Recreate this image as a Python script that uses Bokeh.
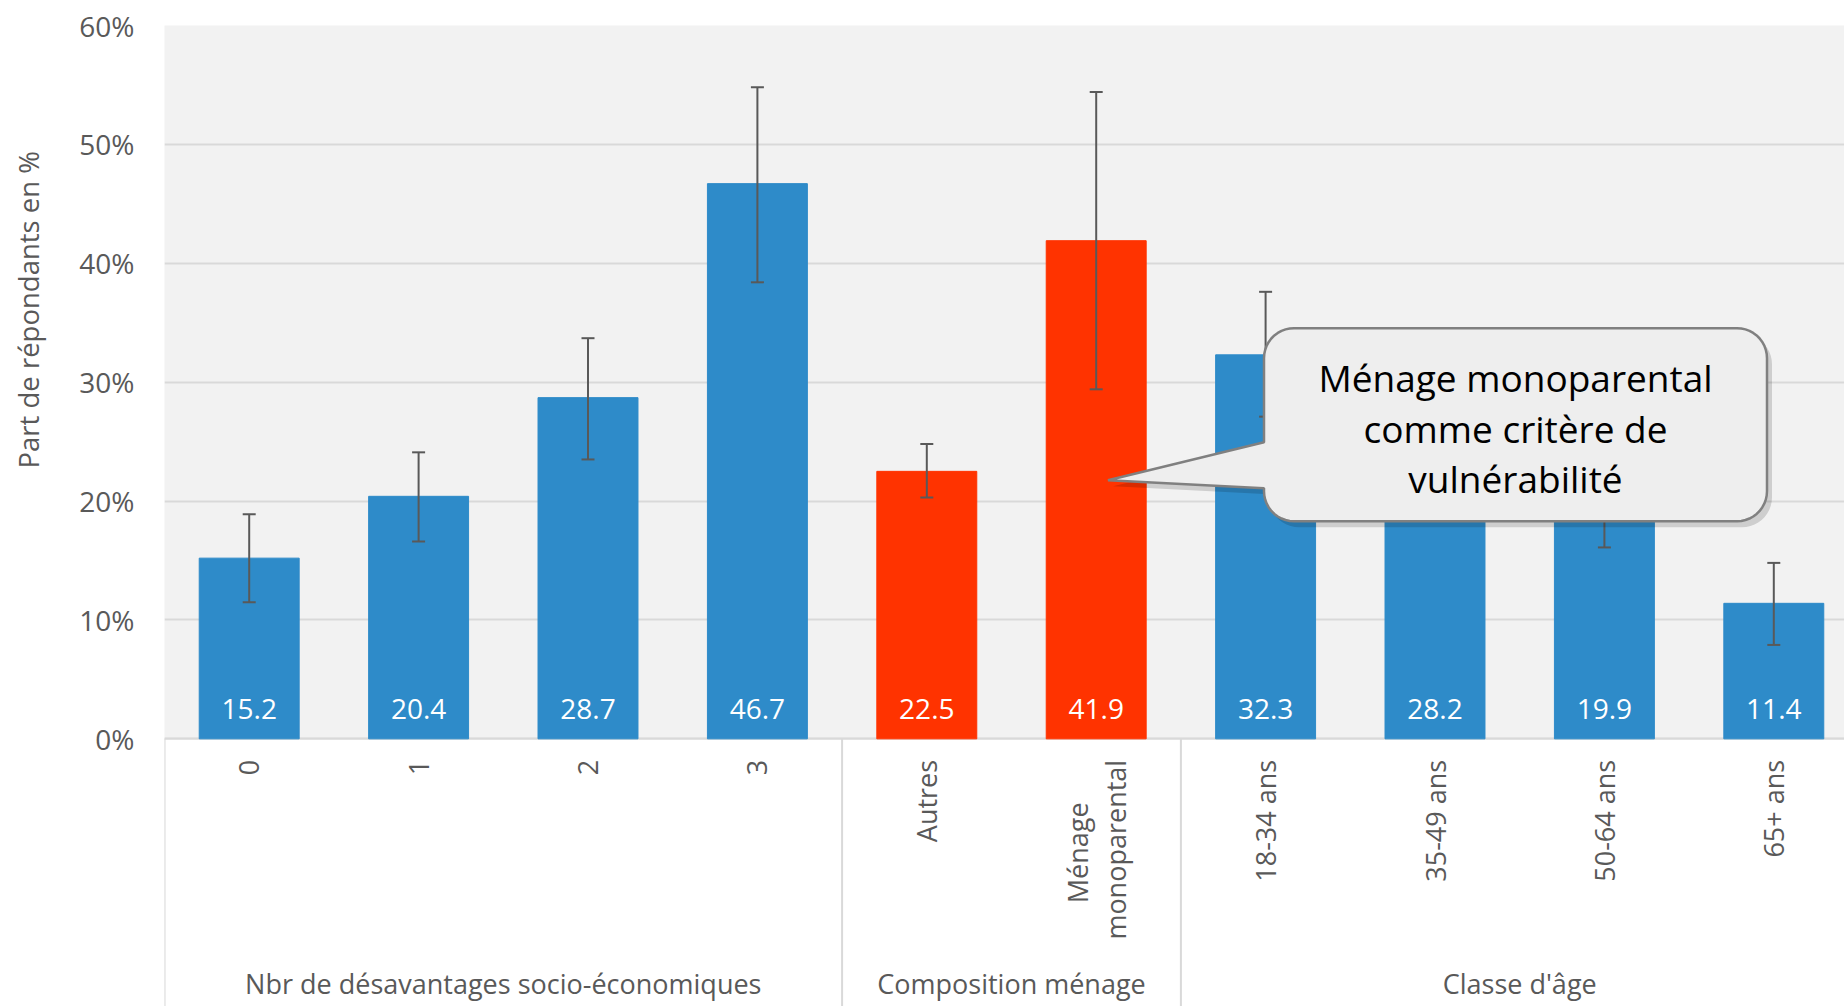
import numpy as np
from bokeh.plotting import figure
from bokeh.models import Range1d, FixedTicker, Title, ColumnDataSource
from bokeh.core.properties import value
from bokeh.embed import file_html
from bokeh.resources import INLINE

# ---------------- data ----------------
categories = ["0", "1", "2", "3", "Autres", "Ménage\nmonoparental",
              "18-34 ans", "35-49 ans", "50-64 ans", "65+ ans"]
values = [15.2, 20.4, 28.7, 46.7, 22.5, 41.9, 32.3, 28.2, 19.9, 11.4]
err_low = [11.5, 16.6, 23.5, 38.4, 20.3, 29.4, 27.1, 24.4, 16.1, 7.9]
err_high = [18.9, 24.1, 33.7, 54.8, 24.8, 54.4, 37.6, 32.0, 23.7, 14.8]
highlight = [False, False, False, False, True, True, False, False, False, False]
groups = ["Nbr de désavantages socio-économiques", "Composition ménage", "Classe d'âge"]
group_sizes = [4, 2, 4]
y_ticks = [0, 10, 20, 30, 40, 50, 60]
y_tick_labels = ["0%", "10%", "20%", "30%", "40%", "50%", "60%"]
y_title = "Part de répondants en %"
callout_lines = ["Ménage monoparental", "comme critère de", "vulnérabilité"]

# ---------------- style / layout ----------------
BLUE = "#2E8BC9"
RED = "#FF3300"
GREY_TXT = "#595959"
GRID = "#D9D9D9"
FONT = "Open Sans"

W, H = 1844, 1006
ML, MT = 164, 25
frame_w = W - ML
PX_PER_CAT = 169.4
PX_PER_PCT = 11.883
x_start = -0.5
x_end = x_start + frame_w / PX_PER_CAT
y_end = 60
zero_px = 738.5                        # 0% baseline, px from figure top
y_start = -(H - zero_px) / PX_PER_PCT  # frame reaches down to figure bottom

n = len(categories)
xs = list(range(n))
colors = [RED if h else BLUE for h in highlight]
labels = [f"{v:.1f}" for v in values]

src = ColumnDataSource(dict(x=xs, top=values, lo=err_low, hi=err_high,
                            color=colors, label=labels))

p = figure(width=W, height=H, x_range=Range1d(x_start, x_end),
           y_range=Range1d(y_start, y_end), output_backend="svg",
           toolbar_location=None, min_border_left=ML, min_border_right=0,
           min_border_top=MT, min_border_bottom=0)
p.background_fill_color = "#F2F2F2"
p.border_fill_color = "white"
p.outline_line_color = None
p.xaxis.visible = False

# grid
p.xgrid.grid_line_color = None
p.ygrid.ticker = FixedTicker(ticks=y_ticks)
p.ygrid.grid_line_color = GRID
p.ygrid.grid_line_width = 2

# y axis
p.yaxis.ticker = FixedTicker(ticks=y_ticks)
p.yaxis.major_label_overrides = {t: l for t, l in zip(y_ticks, y_tick_labels)}
p.yaxis.axis_line_color = None
p.yaxis.major_tick_line_color = None
p.yaxis.minor_tick_line_color = None
p.yaxis.major_tick_out = 0
p.yaxis.major_label_standoff = 30
p.yaxis.major_label_text_font = FONT
p.yaxis.major_label_text_font_size = "28px"
p.yaxis.major_label_text_color = GREY_TXT
# blank spacer label: keeps room between the tick labels and the axis title
p.yaxis.axis_label = " "
p.yaxis.axis_label_text_font_size = "10px"
p.yaxis.axis_label_standoff = 9

p.add_layout(Title(text=y_title, align="left", offset=538, standoff=10,
                   vertical_align="top", text_font=FONT,
                   text_font_size="27.5px", text_font_style="normal",
                   text_color=GREY_TXT), "left")

# white category-label area below the 0% baseline
p.quad(left=x_start, right=x_end, bottom=y_start, top=0, fill_color="white", line_color=None)

# group separators and baseline
bounds = [x_start]
acc = x_start
for gs in group_sizes[:-1]:
    acc += gs
    bounds.append(acc)
p.segment(x0=bounds, y0=[0] * len(bounds), x1=bounds, y1=[y_start] * len(bounds),
          line_color=GRID, line_width=2)
p.segment(x0=[x_start], y0=[0], x1=[x_end], y1=[0], line_color=GRID, line_width=2)

# bars
p.vbar(x="x", top="top", width=0.59, color="color", source=src)

# error bars
p.segment(x0="x", y0="lo", x1="x", y1="hi", line_color=GREY_TXT, line_width=2, source=src)
p.scatter(x="x", y="lo", marker="dash", size=13, line_color=GREY_TXT, line_width=2, source=src)
p.scatter(x="x", y="hi", marker="dash", size=13, line_color=GREY_TXT, line_width=2, source=src)

# value labels inside bars
p.text(x="x", y=0, text="label", y_offset=-30, text_align="center",
       text_baseline="middle", text_color="white", text_font=value(FONT),
       text_font_size="28px", source=src)

# rotated category labels
single_x, single_t, multi = [], [], []
for i, c in enumerate(categories):
    parts = c.split("\n")
    if len(parts) == 1:
        single_x.append(i); single_t.append(c)
    else:
        multi.append((i, parts))
p.text(x=single_x, y=[0] * len(single_x), text=single_t, angle=np.pi / 2,
       y_offset=21, text_align="right", text_baseline="middle",
       text_color=GREY_TXT, text_font=value(FONT), text_font_size="27px")
for i, parts in multi:
    # longest (last) line right-aligned at the standoff, earlier lines centred on it
    p.text(x=[i], y=[0], text=[parts[-1]], angle=np.pi / 2, y_offset=21, x_offset=19,
           text_align="right", text_baseline="middle", text_color=GREY_TXT,
           text_font=value(FONT), text_font_size="27px")
    p.text(x=[i], y=[0], text=[parts[0]], angle=np.pi / 2, y_offset=114, x_offset=-19,
           text_align="center", text_baseline="middle", text_color=GREY_TXT,
           text_font=value(FONT), text_font_size="27px")

# group labels
g_centers = []
acc = x_start
for gs in group_sizes:
    g_centers.append(acc + gs / 2)
    acc += gs
p.text(x=g_centers, y=[0] * len(g_centers), text=groups, y_offset=245,
       text_align="center", text_baseline="middle", text_color=GREY_TXT,
       text_font=value(FONT), text_font_size="27px")

# ---------------- callout (annotation shape, pixels: from frame left / above 0% line) ----------------
c_left, c_right = 1099.5, 1602.5
c_top, c_bot = 410.5, 217.5
rad = 30
tip = (943.5, 258.5)
base_hi, base_lo = 296.5, 250.5


def arc(cx, cy, a0, a1, r=rad, k=12):
    t = np.linspace(a0, a1, k)
    return list(cx + r * np.cos(t)), list(cy + r * np.sin(t))


px, py = [], []
for (cx, cy, a0, a1) in [(c_left + rad, c_top - rad, np.pi, np.pi / 2),
                         (c_right - rad, c_top - rad, np.pi / 2, 0),
                         (c_right - rad, c_bot + rad, 0, -np.pi / 2),
                         (c_left + rad, c_bot + rad, -np.pi / 2, -np.pi)]:
    ax, ay = arc(cx, cy, a0, a1)
    px += ax; py += ay
px += [c_left, tip[0], c_left]
py += [base_lo, tip[1], base_hi]
px = np.array(px); py = np.array(py)


def to_x(a):
    return x_start + a / PX_PER_CAT


def to_y(a):
    return a / PX_PER_PCT


p.patch(to_x(px + 5), to_y(py - 6), fill_color="black", fill_alpha=0.15, line_color=None)
p.patch(to_x(px), to_y(py), fill_color="#EEEEEE", line_color="#808080", line_width=2.5)

cx_mid = (c_left + c_right) / 2
line_y = [361.5, 310.5, 260.5]
p.text(x=[to_x(cx_mid)] * 3, y=[to_y(v) for v in line_y], text=callout_lines,
       text_align="center", text_baseline="middle", text_color="black",
       text_font=value(FONT), text_font_size="37px")

open("out.html", "w").write(file_html(p, INLINE))
